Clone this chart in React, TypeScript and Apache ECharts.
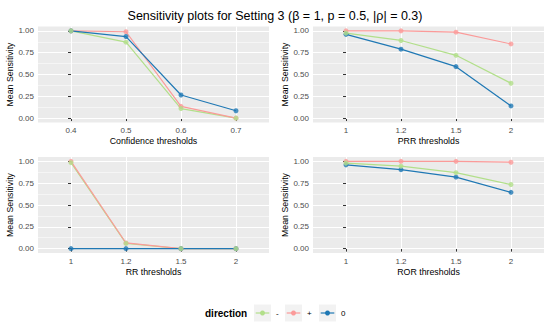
import React, { useEffect, useRef } from "react";
import * as echarts from "echarts";

const titleText = "Sensitivity plots for Setting 3 (β = 1, p = 0.5, |ρ| = 0.3)";
const confCategories = ["0.4", "0.5", "0.6", "0.7"];
const thrCategories = ["1", "1.2", "1.5", "2"];
const yTickValues = [0, 0.25, 0.5, 0.75, 1];
const yTickLabels = ["0.00", "0.25", "0.50", "0.75", "1.00"];
const yMinorValues = [0.125, 0.375, 0.625, 0.875];

const directionNames = ["-", "+", "0"];
const directionColors = ["#B2DF8A", "#FB9A99", "#1F78B4"];

const confMinus = [1.0, 0.87, 0.11, 0.0];
const confPlus = [1.0, 0.99, 0.135, 0.0];
const confZero = [1.0, 0.935, 0.265, 0.085];

const prrMinus = [0.975, 0.89, 0.72, 0.4];
const prrPlus = [1.0, 1.0, 0.985, 0.85];
const prrZero = [0.96, 0.79, 0.59, 0.14];

const rrMinus = [0.985, 0.06, 0.0, 0.0];
const rrPlus = [1.0, 0.065, 0.0, 0.0];
const rrZero = [0.0, 0.0, 0.0, 0.0];

const rorMinus = [0.98, 0.945, 0.87, 0.735];
const rorPlus = [1.0, 1.0, 1.0, 0.99];
const rorZero = [0.96, 0.905, 0.82, 0.645];

const panelNames = ["Confidence thresholds", "PRR thresholds", "RR thresholds", "ROR thresholds"];
const panelCategories = [confCategories, thrCategories, thrCategories, thrCategories];
const panelSeries = [
  [confMinus, confPlus, confZero],
  [prrMinus, prrPlus, prrZero],
  [rrMinus, rrPlus, rrZero],
  [rorMinus, rorPlus, rorZero],
];

const FONT = "Liberation Sans";

export default function App() {
  const ref = useRef<HTMLDivElement>(null);
  useEffect(() => {
    if (!ref.current) return;
    const chart = echarts.init(ref.current, null, { renderer: "svg" });

    const gridPos = [
      { left: 38, top: 26.5 },
      { left: 313, top: 26.5 },
      { left: 38, top: 157 },
      { left: 313, top: 157 },
    ];
    const grids = gridPos.map((p) => ({
      left: p.left,
      top: p.top,
      width: 231,
      height: 96,
      show: true,
      backgroundColor: "#EBEBEB",
      borderWidth: 0,
    }));

    const xAxes = panelCategories.map((cats, i) => ({
      gridIndex: i,
      type: "value",
      min: -0.6,
      max: 3.6,
      name: panelNames[i],
      nameLocation: "middle",
      nameGap: 14,
      nameTextStyle: { fontSize: 8.8, color: "#000", fontFamily: FONT },
      axisLine: { show: false },
      axisTick: {
        show: true,
        customValues: cats.map((_, k) => k),
        length: 3,
        lineStyle: { color: "#333333", width: 1 },
      },
      axisLabel: {
        customValues: cats.map((_, k) => k),
        formatter: (v: number) => cats[Math.round(v)],
        color: "#4D4D4D",
        fontSize: 8,
        fontFamily: FONT,
        margin: 4,
      },
      splitLine: { show: true, lineStyle: { color: "#FFFFFF", width: 1.1 } },
    }));

    const yAxes: any[] = [];
    panelCategories.forEach((_, i) => {
      yAxes.push({
        gridIndex: i,
        type: "value",
        min: -0.05,
        max: 1.05,
        name: "Mean Sensitivity",
        nameLocation: "middle",
        nameGap: 23,
        nameTextStyle: { fontSize: 8.8, color: "#000", fontFamily: FONT },
        axisLine: { show: false },
        axisTick: {
          show: true,
          customValues: yTickValues,
          length: 3,
          lineStyle: { color: "#333333", width: 1 },
        },
        axisLabel: {
          customValues: yTickValues,
          formatter: (v: number) => {
            const k = yTickValues.findIndex((t) => Math.abs(t - v) < 1e-6);
            return k >= 0 ? yTickLabels[k] : "";
          },
          color: "#4D4D4D",
          fontSize: 8,
          fontFamily: FONT,
          margin: 4,
        },
        splitLine: { show: true, lineStyle: { color: "#FFFFFF", width: 1.1 } },
        z: 3,
      });
      yAxes.push({
        gridIndex: i,
        type: "value",
        position: "left",
        min: -0.05,
        max: 1.05,
        axisLine: { show: false },
        axisTick: { show: false, customValues: yMinorValues },
        axisLabel: { show: false, customValues: yMinorValues },
        splitLine: { show: true, lineStyle: { color: "#FFFFFF", width: 0.5 } },
        z: 2,
      });
    });

    const series: any[] = [];
    panelSeries.forEach((group, i) => {
      group.forEach((vals, d) => {
        series.push({
          type: "line",
          name: directionNames[d],
          xAxisIndex: i,
          yAxisIndex: i * 2,
          data: vals.map((v, k) => [k, v]),
          symbol: "none",
          lineStyle: { color: directionColors[d], width: 1.2 },
          z: 3,
        });
      });
      [1, 2, 0].forEach((d) => {
        series.push({
          type: "scatter",
          name: directionNames[d],
          xAxisIndex: i,
          yAxisIndex: i * 2,
          data: group[d].map((v, k) => [k, v]),
          symbol: "circle",
          symbolSize: 5,
          itemStyle: { color: directionColors[d] },
          z: 4,
        });
      });
    });

    const keyX = [254, 285, 319];
    const legendEls: any[] = [
      {
        type: "text",
        x: 205,
        y: 313,
        style: {
          text: "direction",
          font: `bold 10px "${FONT}"`,
          fill: "#000",
          textVerticalAlign: "middle",
          verticalAlign: "middle",
        },
      },
    ];
    directionNames.forEach((n, d) => {
      const x = keyX[d];
      legendEls.push(
        { type: "rect", shape: { x, y: 304.5, width: 17, height: 17 }, style: { fill: "#F2F2F2" } },
        {
          type: "line",
          shape: { x1: x + 1.7, y1: 313, x2: x + 15.3, y2: 313 },
          style: { stroke: directionColors[d], lineWidth: 1.2 },
        },
        { type: "circle", shape: { cx: x + 8.5, cy: 313, r: 2.5 }, style: { fill: directionColors[d] } },
        {
          type: "text",
          x: x + 22,
          y: 313,
          style: {
            text: n,
            font: `8px "${FONT}"`,
            fill: "#000",
            verticalAlign: "middle",
          },
        }
      );
    });

    chart.setOption({
      animation: false,
      backgroundColor: "#FFFFFF",
      title: {
        text: titleText,
        left: "center",
        top: 4,
        textStyle: { fontSize: 12.5, fontWeight: "normal", color: "#000", fontFamily: FONT },
      },
      grid: grids,
      xAxis: xAxes,
      yAxis: yAxes,
      series,
      graphic: legendEls,
    });
    return () => chart.dispose();
  }, []);
  return <div ref={ref} style={{ width: 550, height: 327, position: "absolute", left: 0, top: 0 }} />;
}
